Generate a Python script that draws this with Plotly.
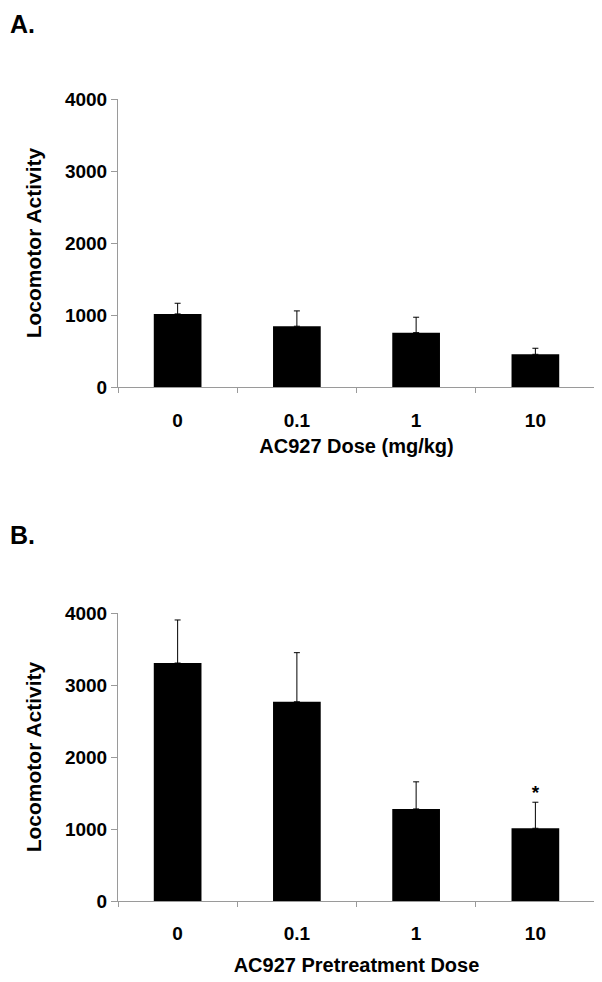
import plotly.graph_objects as go

doses = ["0", "0.1", "1", "10"]
a_means = [1015, 844, 755, 454]
a_sem = [148, 213, 214, 84]
b_means = [3305, 2767, 1279, 1010]
b_sem = [598, 682, 376, 362]
y_ticks = [0, 1000, 2000, 3000, 4000]
star_dose = ["10"]
star_value = [1480]

FONT = "Liberation Sans, Arial, sans-serif"
W, H = 602.0, 982.0
OFF = 8  # page body margin

def px(p):
    return (p - OFF) / W

def py(p):
    return 1 - (p - OFF) / H

fig = go.Figure()
for means, sem, xa, ya in [(a_means, a_sem, "x", "y"), (b_means, b_sem, "x2", "y2")]:
    fig.add_trace(go.Bar(
        x=doses, y=means, xaxis=xa, yaxis=ya,
        marker=dict(color="black", line=dict(width=0)),
        error_y=dict(type="data", array=sem, arrayminus=[0] * len(sem), symmetric=False,
                     color="black", thickness=1, width=3),
        showlegend=False, hoverinfo="skip",
    ))

fig.add_trace(go.Scatter(
    x=star_dose, y=star_value, xaxis="x2", yaxis="y2", mode="text", text=["*"],
    textfont=dict(family=FONT, size=19, color="black", weight="bold"),
    textposition="middle center", showlegend=False, hoverinfo="skip",
))

tick_font = dict(family=FONT, size=19, color="black", weight="bold")
title_font = dict(family=FONT, size=20, color="black", weight="bold")
ytitle_font = dict(family=FONT, size=21, color="black", weight="bold")
label_font = dict(family=FONT, size=25, color="black", weight="bold")
xcommon = dict(domain=[px(118), px(595)], type="category", categoryorder="array",
               categoryarray=doses, showline=True, linecolor="#9a9a9a",
               linewidth=1, ticks="outside", tickson="boundaries", ticklen=5, tickcolor="#9a9a9a",
               tickfont=tick_font, showgrid=False, zeroline=False, automargin=False)
ycommon = dict(range=[0, 4000], tickvals=y_ticks, showline=True, linecolor="#9a9a9a", linewidth=1,
               ticks="outside", ticklen=6, tickcolor="#9a9a9a", tickfont=tick_font,
               showgrid=False, zeroline=False, automargin=False,
               title=dict(text="Locomotor Activity", font=ytitle_font, standoff=17))

fig.update_layout(
    width=602, height=982, margin=dict(l=0, r=0, t=0, b=0),
    paper_bgcolor="white", plot_bgcolor="white", bargap=0.6,
    xaxis=dict(xcommon, anchor="y", ticklabelstandoff=16,
               title=dict(text="AC927 Dose (mg/kg)", font=title_font, standoff=9)),
    yaxis=dict(ycommon, domain=[py(387), py(99)], anchor="x"),
    xaxis2=dict(xcommon, anchor="y2", ticklabelstandoff=15,
                title=dict(text="AC927 Pretreatment Dose", font=title_font, standoff=15)),
    yaxis2=dict(ycommon, domain=[py(901), py(613)], anchor="x2"),
    annotations=[
        dict(text="A.", x=px(8), y=1, xref="paper", yref="paper", xanchor="left",
             yanchor="top", showarrow=False, font=label_font),
        dict(text="B.", x=px(8), y=py(535), xref="paper", yref="paper", xanchor="left",
             yanchor="middle", showarrow=False, font=label_font),
    ],
)

fig.write_html("out.html")
